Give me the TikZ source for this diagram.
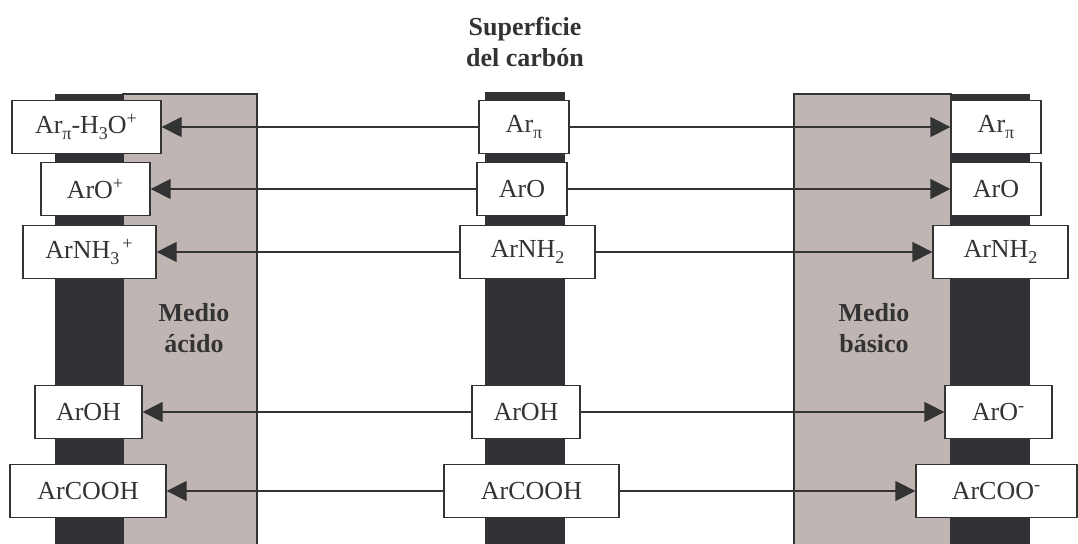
\documentclass[tikz,border=0pt]{standalone}
\usepackage{fontspec}
\setmainfont{Liberation Serif}
\usetikzlibrary{arrows.meta}
\definecolor{barDark}{RGB}{51,49,54}
\definecolor{mediumGray}{RGB}{191,182,180}
\definecolor{inkGray}{RGB}{51,51,51}
\newcommand{\lowsub}[1]{\raisebox{-0.55ex}{\fontsize{9}{9}\selectfont #1}}

\begin{document}
\begin{tikzpicture}[x=0.5pt, y=-0.5pt, font=\fontsize{13}{15.5}\selectfont, text=inkGray,
        species/.style={draw=inkGray, fill=white, line width=0.65pt, minimum height=26.5pt, inner sep=0pt},
        reaction/.style={draw=inkGray, line width=0.65pt, -{Triangle[length=10pt, width=10pt]}},
        heading/.style={font=\fontsize{13}{15.5}\selectfont\bfseries, align=center}]
        \useasboundingbox (0,0) rectangle (1078,544);
        \clip (0,0) rectangle (1078,544);
        % medios y superficie
        \filldraw[fill=mediumGray, draw=inkGray, line width=0.65pt] (123,94) rectangle (257,560);
        \fill[barDark] (55,94) rectangle (123,560);
        \fill[barDark] (485,92) rectangle (565,560);
        \filldraw[fill=mediumGray, draw=inkGray, line width=0.65pt] (794,94) rectangle (951,560);
        \fill[barDark] (951,94) rectangle (1030,560);

        \node[heading] (surface) at (525, 42) {Superficie\\del carbón};
        \node[heading] (acidLabel) at (194, 328) {Medio\\ácido};
        \node[heading] (basicLabel) at (874, 328) {Medio\\básico};

        % superficie del carbon
        \node[species, minimum width=45pt] (surfPi) at (524, 127) {Ar\lowsub{π}};
        \node[species, minimum width=45pt] (surfO) at (522, 189) {ArO};
        \node[species, minimum width=67.5pt] (surfNH) at (527.5, 252) {ArNH\lowsub{2}};
        \node[species, minimum width=54pt] (surfOH) at (526, 412) {ArOH};
        \node[species, minimum width=87.5pt] (surfCOOH) at (531.5, 491) {ArCOOH};

        % medio acido
        \node[species, minimum width=74.5pt] (acidPi) at (86.5, 127) {Ar\lowsub{π}-H\lowsub{3}O\textsuperscript{+}};
        \node[species, minimum width=54.5pt] (acidO) at (95.5, 189) {ArO\textsuperscript{+}};
        \node[species, minimum width=66.5pt] (acidNH) at (89.5, 252) {ArNH\lowsub{3}\textsuperscript{\,+}};
        \node[species, minimum width=53.5pt] (acidOH) at (88.5, 412) {ArOH};
        \node[species, minimum width=78pt] (acidCOOH) at (88, 491) {ArCOOH};

        % medio basico
        \node[species, minimum width=45pt] (basicPi) at (996, 127) {Ar\lowsub{π}};
        \node[species, minimum width=45pt] (basicO) at (996, 189) {ArO};
        \node[species, minimum width=67.5pt] (basicNH) at (1000.5, 252) {ArNH\lowsub{2}};
        \node[species, minimum width=53.5pt] (basicOH) at (998.5, 412) {ArO\textsuperscript{-}};
        \node[species, minimum width=80.5pt] (basicCOOH) at (996.5, 491) {ArCOO\textsuperscript{-}};

        \draw[reaction] (surfPi) -- (acidPi);
        \draw[reaction] (surfO) -- (acidO);
        \draw[reaction] (surfNH) -- (acidNH);
        \draw[reaction] (surfOH) -- (acidOH);
        \draw[reaction] (surfCOOH) -- (acidCOOH);
        \draw[reaction] (surfPi) -- (basicPi);
        \draw[reaction] (surfO) -- (basicO);
        \draw[reaction] (surfNH) -- (basicNH);
        \draw[reaction] (surfOH) -- (basicOH);
        \draw[reaction] (surfCOOH) -- (basicCOOH);
    \end{tikzpicture}
\end{document}
